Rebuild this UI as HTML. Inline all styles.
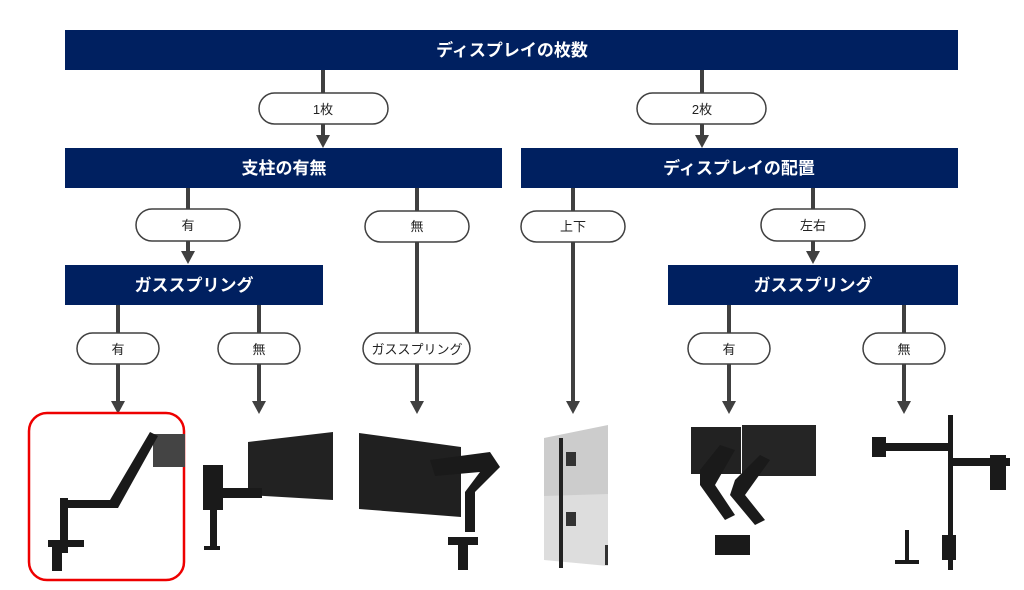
<!DOCTYPE html>
<html><head><meta charset="utf-8"><style>
body{margin:0;background:#fff;width:1024px;height:585px;overflow:hidden}
text{font-family:"Liberation Sans","Noto Sans CJK JP",sans-serif}
</style></head><body>
<svg width="1024" height="585" viewBox="0 0 1024 585" xmlns="http://www.w3.org/2000/svg">
<defs>
<marker id="a" markerWidth="4" markerHeight="4" refX="2" refY="3.2" orient="auto" markerUnits="strokeWidth" viewBox="0 0 4 4"><path d="M0,0 L4,0 L2,3.4Z" fill="#404040" transform="rotate(-90 2 2)"/></marker>
</defs>
<g stroke="#404040" stroke-width="4" fill="none">
<line x1="323" y1="70" x2="323" y2="93"/><line x1="323" y1="124" x2="323" y2="136"/>
<line x1="702" y1="70" x2="702" y2="93"/><line x1="702" y1="124" x2="702" y2="136"/>
<line x1="188" y1="188" x2="188" y2="209"/><line x1="188" y1="241" x2="188" y2="252"/>
<line x1="417" y1="188" x2="417" y2="211"/><line x1="417" y1="242" x2="417" y2="333"/><line x1="417" y1="364" x2="417" y2="402"/>
<line x1="573" y1="188" x2="573" y2="211"/><line x1="573" y1="242" x2="573" y2="402"/>
<line x1="813" y1="188" x2="813" y2="209"/><line x1="813" y1="241" x2="813" y2="252"/>
<line x1="118" y1="305" x2="118" y2="333"/><line x1="118" y1="364" x2="118" y2="402"/>
<line x1="259" y1="305" x2="259" y2="333"/><line x1="259" y1="364" x2="259" y2="402"/>
<line x1="729" y1="305" x2="729" y2="333"/><line x1="729" y1="364" x2="729" y2="402"/>
<line x1="904" y1="305" x2="904" y2="333"/><line x1="904" y1="364" x2="904" y2="402"/>
</g>
<g fill="#404040">
<path d="M316,135h14l-7,13z"/><path d="M695,135h14l-7,13z"/>
<path d="M181,251h14l-7,13z"/><path d="M806,251h14l-7,13z"/>
<path d="M111,401h14l-7,13z"/><path d="M252,401h14l-7,13z"/><path d="M410,401h14l-7,13z"/>
<path d="M566,401h14l-7,13z"/><path d="M722,401h14l-7,13z"/><path d="M897,401h14l-7,13z"/>
</g>
<g fill="#002060">
<rect x="65" y="30" width="893" height="40"/>
<rect x="65" y="148" width="437" height="40"/>
<rect x="521" y="148" width="437" height="40"/>
<rect x="65" y="265" width="258" height="40"/>
<rect x="668" y="265" width="290" height="40"/>
</g>
<g fill="#fff" font-weight="bold" font-size="17" text-anchor="middle">
<text x="512" y="56">ディスプレイの枚数</text>
<text x="284" y="174">支柱の有無</text>
<text x="739" y="174">ディスプレイの配置</text>
<text x="194" y="291">ガススプリング</text>
<text x="813" y="291">ガススプリング</text>
</g>
<g fill="#fff" stroke="#404040" stroke-width="1.5">
<rect x="259" y="93" width="129" height="31" rx="15.5"/>
<rect x="637" y="93" width="129" height="31" rx="15.5"/>
<rect x="136" y="209" width="104" height="32" rx="16"/>
<rect x="365" y="211" width="104" height="31" rx="15.5"/>
<rect x="521" y="211" width="104" height="31" rx="15.5"/>
<rect x="761" y="209" width="104" height="32" rx="16"/>
<rect x="77" y="333" width="82" height="31" rx="15.5"/>
<rect x="218" y="333" width="82" height="31" rx="15.5"/>
<rect x="363" y="333" width="107" height="31" rx="15.5"/>
<rect x="688" y="333" width="82" height="31" rx="15.5"/>
<rect x="863" y="333" width="82" height="31" rx="15.5"/>
</g>
<g fill="#222" font-size="13" text-anchor="middle">
<text x="323" y="114">1枚</text><text x="702" y="114">2枚</text>
<text x="188" y="230">有</text><text x="417" y="231">無</text>
<text x="573" y="231">上下</text><text x="813" y="230">左右</text>
<text x="118" y="354">有</text><text x="259" y="354">無</text>
<text x="417" y="354">ガススプリング</text>
<text x="729" y="354">有</text><text x="904" y="354">無</text>
</g>
<rect x="29" y="413" width="155" height="167" rx="18" fill="none" stroke="#e00" stroke-width="2.5"/>
<!-- product 1 -->
<g fill="#1a1a1a">
<rect x="153" y="434" width="32" height="33" fill="#444"/>
<path d="M60,500h50l40,-68l8,4l-40,72h-58z"/>
<rect x="60" y="498" width="8" height="55"/>
<rect x="48" y="540" width="36" height="7"/><rect x="52" y="547" width="10" height="24"/>
</g>
<!-- product 2 -->
<g fill="#1a1a1a">
<path d="M248,442l85,-10v68l-85,-5z" fill="#222"/>
<rect x="203" y="465" width="20" height="45"/><rect x="210" y="510" width="7" height="40"/>
<rect x="222" y="488" width="40" height="10"/><rect x="204" y="546" width="16" height="4"/>
</g>
<!-- product 3 -->
<g fill="#1a1a1a">
<path d="M359,433l102,14v70l-102,-8z" fill="#202020"/>
<path d="M430,460l60,-8l10,15l-25,25v40h-10v-40l15,-20l-45,4z"/>
<rect x="448" y="537" width="30" height="8"/><rect x="458" y="545" width="10" height="25"/>
</g>
<!-- product 4 -->
<g>
<path d="M544,438l64,-13v72l-64,4z" fill="#ccc"/>
<path d="M544,496l64,-2v72l-64,-6z" fill="#ddd"/>
<rect x="559" y="438" width="4" height="130" fill="#222"/>
<rect x="566" y="452" width="10" height="14" fill="#333"/><rect x="566" y="512" width="10" height="14" fill="#333"/>
<rect x="605" y="545" width="3" height="20" fill="#333"/>
</g>
<!-- product 5 -->
<g fill="#1a1a1a">
<rect x="691" y="427" width="50" height="47" fill="#222"/><rect x="742" y="425" width="74" height="51" fill="#252525"/>
<path d="M700,470l20,-25l15,5l-20,35l20,30l-10,5l-25,-35z"/>
<path d="M735,480l25,-25l10,5l-25,35l20,25l-10,5l-25,-30z"/>
<rect x="715" y="535" width="35" height="20"/>
</g>
<!-- product 6 -->
<g fill="#1a1a1a">
<rect x="948" y="415" width="5" height="155"/>
<rect x="880" y="443" width="70" height="8"/><rect x="872" y="437" width="14" height="20"/>
<rect x="950" y="458" width="60" height="8"/><rect x="990" y="455" width="16" height="35"/>
<rect x="905" y="530" width="4" height="32"/><rect x="895" y="560" width="24" height="4"/>
<rect x="942" y="535" width="14" height="25"/>
</g>
</svg>
</body></html>
